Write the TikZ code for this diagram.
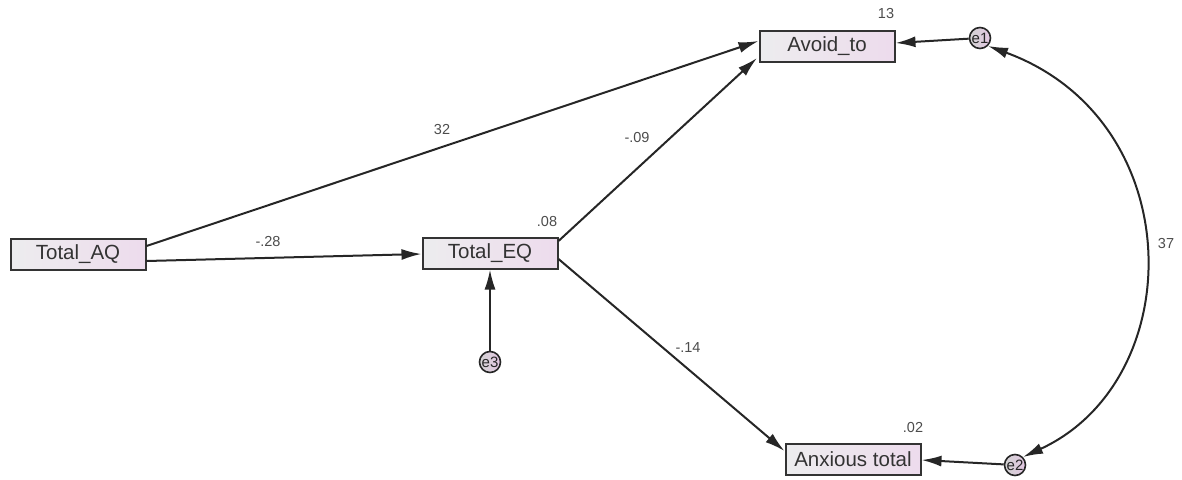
\documentclass[tikz,border=0pt]{standalone}
\usepackage{fontspec}
\setmainfont{Liberation Sans}
\usetikzlibrary{arrows.meta}
\begin{document}
\begin{tikzpicture}[x=1pt,y=-1pt,
  var/.style={draw=black!80, line width=2pt, left color=blue!4!gray!14, right color=violet!14!white,
    minimum width=135pt, minimum height=31pt, inner sep=0pt, text=black!80,
    font=\fontsize{20.5}{22}\selectfont},
  err/.style={circle, draw=black!85, line width=1.6pt, left color=gray!35, right color=violet!22,
    minimum size=21pt, inner sep=0pt, text=black!85, font=\fontsize{15}{16}\selectfont},
  tip/.style={Latex[length=20pt,width=11pt]},
  path/.style={draw=black!85, line width=2pt, -{Latex[length=20pt,width=11pt]}},
  coef/.style={text=black!70, font=\fontsize{14.5}{15}\selectfont, inner sep=0pt}]
\useasboundingbox (0,0) rectangle (1182,479);

% observed variables
\node[var] (aq) at (78,254) {Total\_AQ};
\node[var] (eq) at (490,253) {Total\_EQ};
\node[var] (av) at (827,46) {Avoid\_to};
\node[var] (ax) at (853,459) {Anxious total};

% error terms
\node[err] (e1) at (980,38) {e1};
\node[err] (e2) at (1015,465) {e2};
\node[err] (e3) at (490,362) {e3};

% regression paths
\draw[path] (aq.east |- 0,246) -- (av.west |- 0,41);
\draw[path] (aq.east |- 0,261) -- (eq.west |- 0,254);
\draw[path] (eq.east |- 0,241) -- (757,58);
\draw[path] (eq.east |- 0,259) -- (ax.west |- 0,451);
\draw[path] (e3) -- (eq.south);
\draw[path] (e1) -- (av.east |- 0,43);
\draw[path] (e2) -- (ax.east |- 0,460);

% residual covariance
\draw[draw=black!85, line width=2pt, {Latex[length=20pt,width=11pt]}-{Latex[length=20pt,width=11pt]}]
  (e1.south east) .. controls (1190,120) and (1190,380) .. (e2.north east);

% coefficients
\node[coef] (c1) at (442,130) {32};
\node[coef] (c2) at (268,242) {-.28};
\node[coef] (c3) at (637,138) {-.09};
\node[coef] (c4) at (688,348) {-.14};
\node[coef] (c5) at (1166,244) {37};
\node[coef] (r1) at (547,222) {.08};
\node[coef] (r2) at (886,14) {13};
\node[coef] (r3) at (913,428) {.02};
\end{tikzpicture}
\end{document}
